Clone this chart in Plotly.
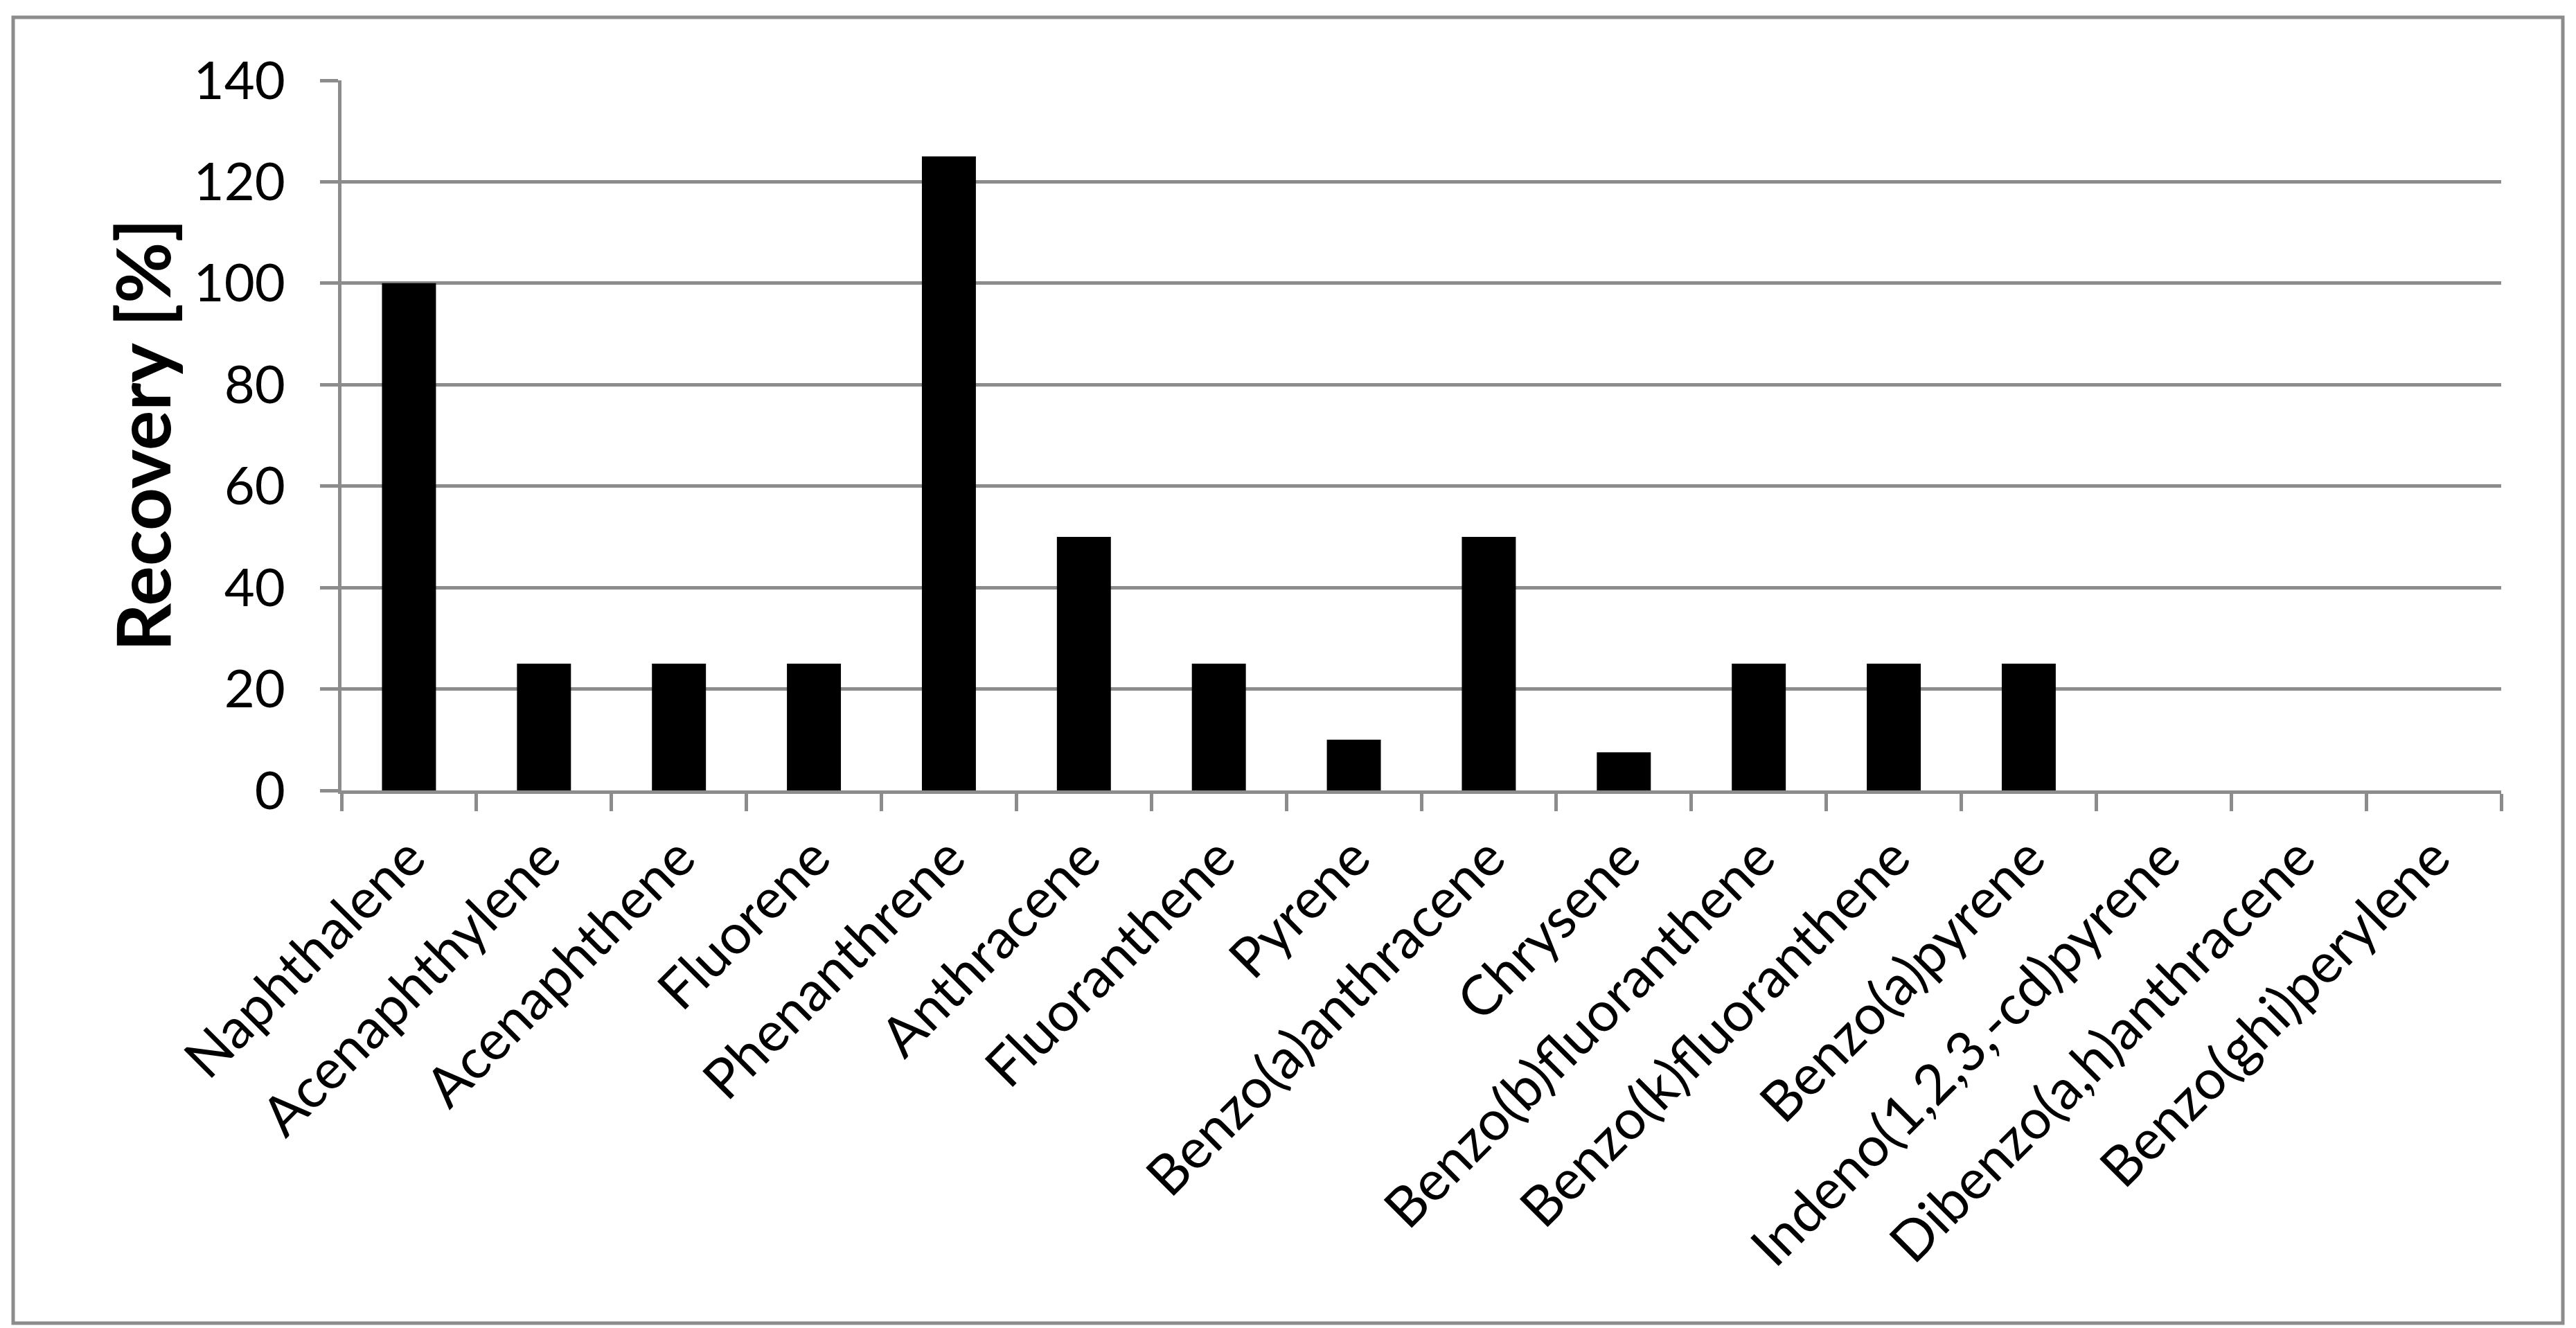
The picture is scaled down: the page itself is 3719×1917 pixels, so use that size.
import plotly.graph_objects as go

categories = [
    "Naphthalene", "Acenaphthylene", "Acenaphthene", "Fluorene", "Phenanthrene",
    "Anthracene", "Fluoranthene", "Pyrene", "Benzo(a)anthracene", "Chrysene",
    "Benzo(b)fluoranthene", "Benzo(k)fluoranthene", "Benzo(a)pyrene",
    "Indeno(1,2,3,-cd)pyrene", "Dibenzo(a,h)anthracene", "Benzo(ghi)perylene",
]
recovery = [100, 25, 25, 25, 125, 50, 25, 10, 50, 7.5, 25, 25, 25, 0, 0, 0]
y_ticks = [0, 20, 40, 60, 80, 100, 120, 140]
y_title = "Recovery [%]"

W, H = 3719, 1917
ML, MR, MT, MB = 493, 108, 116, 776
PW = W - ML - MR
PH = H - MT - MB
GRAY = "#8c8c8c"
FONT = "Lato"

fig = go.Figure(go.Bar(x=categories, y=recovery, marker=dict(color="black", line=dict(width=0))))

def px_to_paper_x(px):
    return (px - ML) / PW

def px_to_paper_y(py):
    return (H - MB - py) / PH

fig.update_layout(
    width=W, height=H,
    margin=dict(l=ML, r=MR, t=MT, b=MB, autoexpand=False),
    paper_bgcolor="white", plot_bgcolor="white",
    bargap=0.6, showlegend=False,
    font=dict(family=FONT, color="black", size=76),
    xaxis=dict(
        type="category", tickangle=-45, tickson="boundaries",
        ticks="outside", ticklen=25, tickwidth=5, tickcolor=GRAY,
        showline=True, linewidth=5, linecolor=GRAY, showgrid=False,
        tickfont=dict(family=FONT, size=80, color="black"),
        ticklabelstandoff=13,
        automargin=False,
    ),
    yaxis=dict(
        range=[0, 140], tickvals=y_ticks, ticktext=[str(v) for v in y_ticks],
        ticks="outside", ticklen=26, tickwidth=5, tickcolor=GRAY,
        showline=True, linewidth=5, linecolor=GRAY,
        showgrid=True, gridwidth=5, gridcolor=GRAY, zeroline=False,
        tickfont=dict(family=FONT, size=76, color="black"),
        ticklabelstandoff=35,
        automargin=False,
    ),
    annotations=[dict(
        text=y_title, textangle=-90, showarrow=False,
        xref="paper", yref="paper", x=px_to_paper_x(203), y=0.5,
        xanchor="center", yanchor="middle",
        font=dict(family=FONT, size=108, color="black", weight="bold"),
    )],
    shapes=[dict(
        type="rect", xref="paper", yref="paper",
        x0=px_to_paper_x(19), x1=px_to_paper_x(3700),
        y0=px_to_paper_y(1910), y1=px_to_paper_y(25),
        line=dict(color=GRAY, width=5), fillcolor="rgba(0,0,0,0)", layer="below",
    )],
)

fig.write_html(
    "out.html",
    config={"displayModeBar": False},
    post_script="document.body.style.margin='0';document.body.style.padding='0';document.body.style.overflow='hidden';",
)
